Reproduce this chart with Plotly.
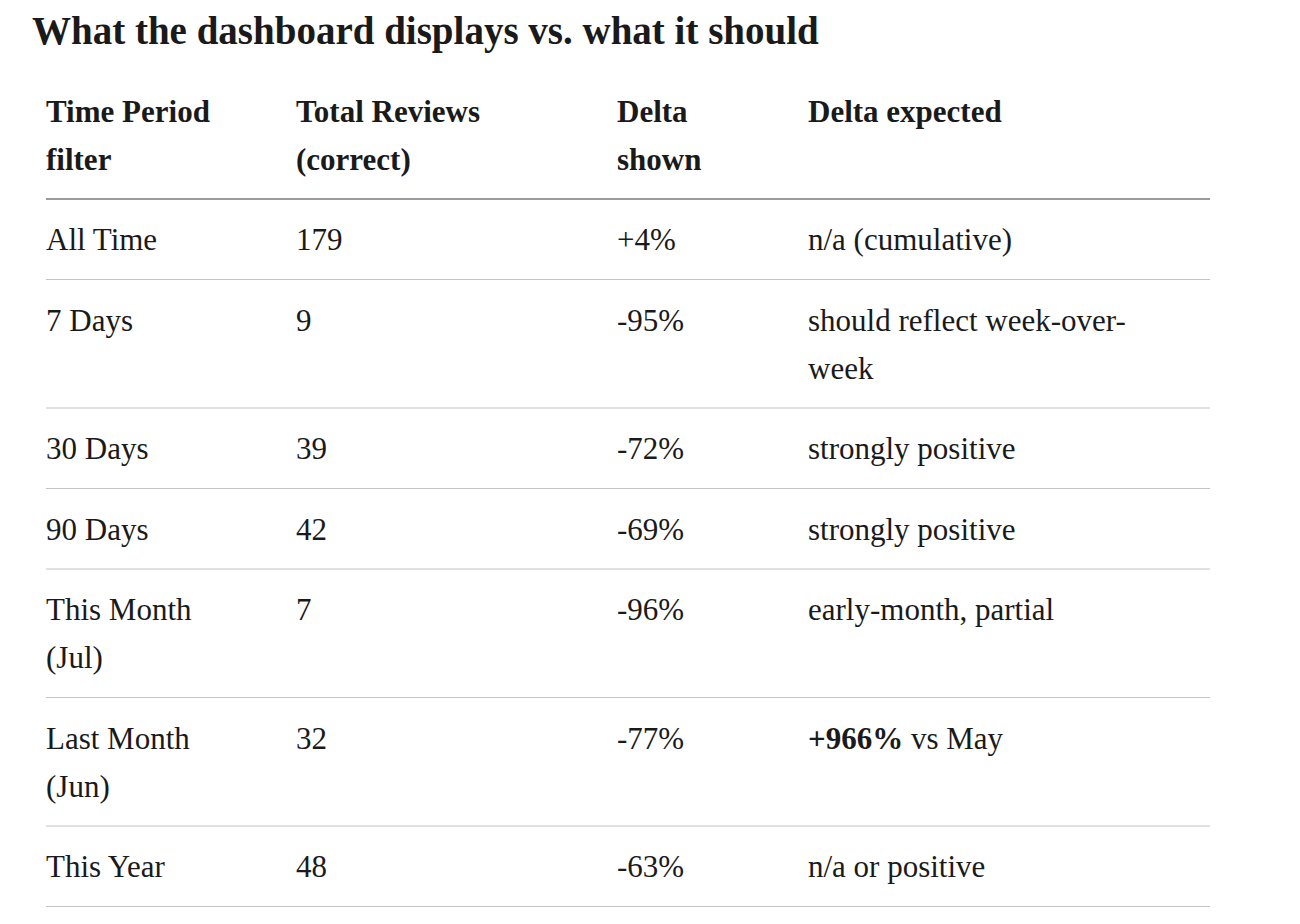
import plotly.graph_objects as go

# Table contents (line breaks follow the wrapping in the original)
headers = ["Time Period\nfilter", "Total Reviews\n(correct)", "Delta\nshown", "Delta expected"]
periods = ["All Time", "7 Days", "30 Days", "90 Days", "This Month\n(Jul)", "Last Month\n(Jun)", "This Year"]
total_reviews = [179, 9, 39, 42, 7, 32, 48]
delta_shown = [4, -95, -72, -69, -96, -77, -63]
delta_expected = ["n/a (cumulative)", "should reflect week-over-\nweek", "strongly positive",
                  "strongly positive", "early-month, partial", "<b>+966%</b> vs May", "n/a or positive"]

title = "What the dashboard displays vs. what it should"

# layout constants (pixel space of the page; the page body has an 8px margin)
W, H = 1300, 924
body_margin = 8
col_x = [46, 296, 617, 808]
table_left, table_right = 46, 1210
table_top = 70.5
line_gap = 48
pad = 40.25
text_shift = 3  # glyphs sit a little below the cell's midline
font_family = "Liberation Serif"
text_color = "#1a1a1a"
body_size = 31

rows = [[p, str(t), f"{d:+d}%", e] for p, t, d, e in zip(periods, total_reviews, delta_shown, delta_expected)]
all_rows = [headers] + rows

fig = go.Figure()

y = table_top
row_bottoms = []
for r, row in enumerate(all_rows):
    n_lines = max(len(c.split("\n")) for c in row)
    xs, ys, texts = [], [], []
    for c, cell in enumerate(row):
        for k, line in enumerate(cell.split("\n")):
            xs.append(col_x[c])
            ys.append(y + pad + text_shift + k * line_gap)
            texts.append(f"<b>{line}</b>" if r == 0 else line)
    fig.add_trace(go.Scatter(
        x=xs, y=ys, text=texts, mode="text", textposition="middle right",
        textfont=dict(family=font_family, size=body_size, color=text_color),
        hoverinfo="skip", showlegend=False))
    y = y + 2 * pad + (n_lines - 1) * line_gap
    row_bottoms.append(y)

# header rule (darker) and row rules (light)
fig.add_trace(go.Scatter(
    x=[table_left, table_right], y=[row_bottoms[0]] * 2, mode="lines",
    line=dict(color="#7a7a7a", width=1.5), hoverinfo="skip", showlegend=False))
lx, ly = [], []
for b in row_bottoms[1:]:
    lx += [table_left, table_right, None]
    ly += [b, b, None]
fig.add_trace(go.Scatter(
    x=lx, y=ly, mode="lines", line=dict(color="#c4c4c4", width=1.2),
    hoverinfo="skip", showlegend=False))

fig.add_annotation(
    x=30, y=31, xref="x", yref="y", text=f"<b>{title}</b>", showarrow=False,
    xanchor="left", yanchor="middle",
    font=dict(family=font_family, size=39, color=text_color))

fig.update_xaxes(range=[body_margin, W + body_margin], visible=False, fixedrange=True)
fig.update_yaxes(range=[H + body_margin, body_margin], visible=False, fixedrange=True)
fig.update_layout(
    width=W, height=H, margin=dict(l=0, r=0, t=0, b=0),
    paper_bgcolor="white", plot_bgcolor="white", hovermode=False)

fig.write_html("out.html", config={"displayModeBar": False})
